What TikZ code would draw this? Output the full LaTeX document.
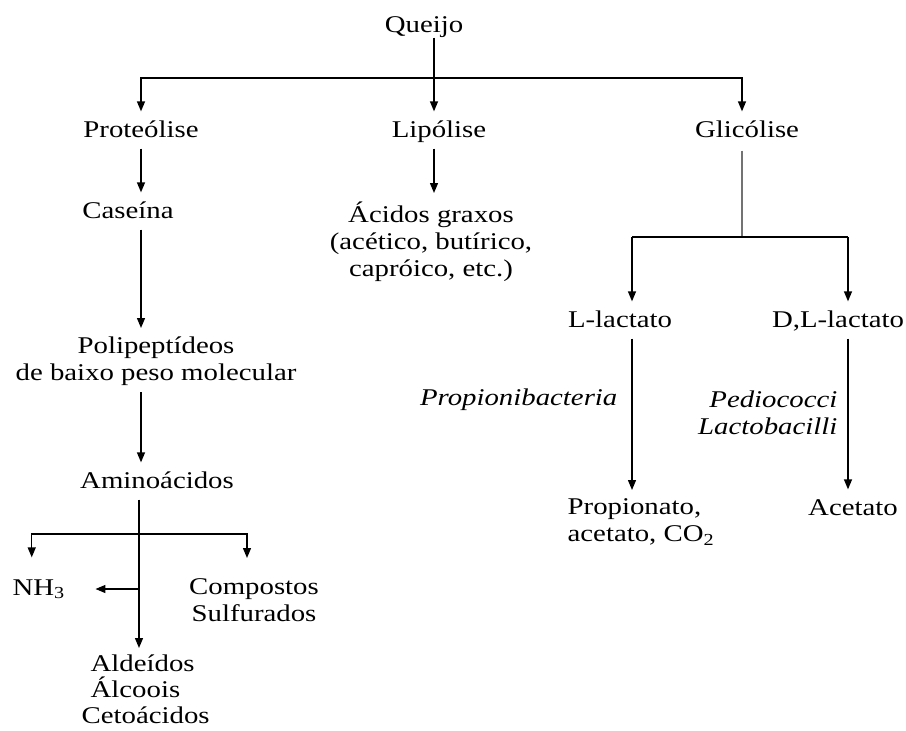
\documentclass[tikz,border=0pt]{standalone}
\usepackage{fontspec}
\setmainfont[FakeStretch=1.2]{Liberation Serif}
\usetikzlibrary{arrows.meta}

\begin{document}
\begin{tikzpicture}[x=1pt,y=-1pt,>={Triangle[length=10pt,width=8pt]},
                    line width=1.3pt,
                    every node/.style={inner sep=0pt,anchor=base,text height=17pt,
                      text depth=5pt,font=\fontsize{24}{27}\selectfont},
                    multi/.style={text height={},text depth={},anchor=north},
                    bact/.style={font=\fontsize{24}{27}\selectfont\itshape},
                    link/.style={->,shorten <=6pt,shorten >=8pt},
                    split/.style={->,shorten >=8pt}]
  \useasboundingbox (0,0) rectangle (906,731);

  \node (queijo)  at (424,32)  {Queijo};
  \node (prot)    at (141,137) {Proteólise};
  \node (lipo)    at (439,137) {Lipólise};
  \node (glic)    at (747,137) {Glicólise};
  \node (caseina) at (128,218) {Caseína};
  \node (acidos)  at (431,201) [multi,align=center]
        {Ácidos graxos\\(acético, butírico,\\capróico, etc.)};
  \node (polip)   at (156,336) [multi,align=center]
        {Polipeptídeos\\de baixo peso molecular};
  \node (amino)   at (157,488) {Aminoácidos};
  \node (nh)      at (12,595)  [anchor=base west] {NH\textsubscript{3}};
  \node (compostos) at (254,578) [multi,align=center] {Compostos\\Sulfurados};
  \node (aldeidos)  at (90,654)  [multi,anchor=north west,align=left,
                                  font=\fontsize{24}{26}\selectfont]
        {Aldeídos\\Álcoois\\\hspace*{-9pt}Cetoácidos};
  \node (llac)    at (620,327) {L-lactato};
  \node (dllac)   at (838,327) {D,L-lactato};
  \node (propb)   at (618,405) [bact,anchor=base east] {Propionibacteria};
  \node (pedio)   at (838,390) [multi,bact,anchor=north east,align=right]
        {Pediococci\\Lactobacilli};
  \node (propio)  at (567,498) [multi,anchor=north west,align=left]
        {Propionato,\\acetato, CO\textsubscript{2}};
  \node (acet)    at (853,515) {Acetato};

  \coordinate (top) at (434,78);
  \coordinate (asplit) at (139,534);
  \coordinate (gsplit) at (742,237);
  \coordinate (lsplit) at (632,237);
  \coordinate (rsplit) at (848,237);

  % Queijo
  \draw (queijo.south -| top) -- (top);
  \draw[split] (top) -| (prot.north);
  \draw[split] (top) -- (top |- lipo.north);
  \draw[split] (top) -| ([xshift=-5pt]glic.north);

  % proteolise / lipolise
  \draw[link] (prot.south) -- (prot.south |- caseina.north);
  \draw[link] (lipo.south -| top) -- (top |- acidos.north);
  \draw[link] (caseina.south -| prot) -- (prot |- polip.north);
  \draw[link] (polip.south -| prot) -- (prot |- amino.north);
  \draw[link,shorten >=6pt] (amino.south -| asplit) -- (asplit |- aldeidos.north);
  \draw[split,shorten >=20pt] (asplit) -| ([xshift=-7pt]nh.north);
  \draw[split,shorten >=20pt] (asplit) -| ([xshift=-7pt]compostos.north);
  \draw[->,shorten >=30pt] (asplit |- nh.east) -- (nh.east);

  % glicolise
  \draw[black!55,shorten <=8pt] (glic.south -| gsplit) -- (gsplit);
  \draw (lsplit) -- (rsplit);
  \draw[split] (lsplit) -- (lsplit |- llac.north);
  \draw[split] (rsplit) -- (rsplit |- dllac.north);
  \draw[link] (llac.south -| lsplit) -- (lsplit |- propio.north);
  \draw[link] (dllac.south -| rsplit) -- (rsplit |- acet.north);
\end{tikzpicture}
\end{document}
